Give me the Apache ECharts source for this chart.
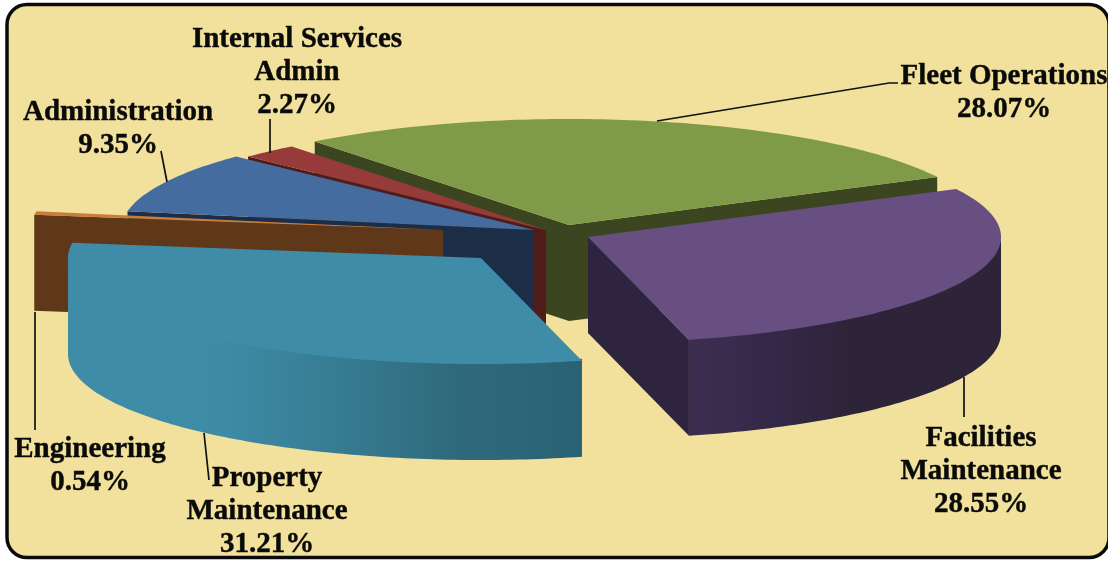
<!DOCTYPE html>
<html lang="en">
<head>
    <meta charset="UTF-8">
    <title>Budget share by division</title>
    <script src="https://cdn.jsdelivr.net/npm/echarts@6/dist/echarts.min.js"></script>
    <style>
        html, body, #chart {
            width: 100%;
            height: 100%;
            padding: 0;
            margin: 0;
            background: #fff;
        }
    </style>
</head>
<body>
<div id="chart"></div>
<script>
    // chart data, clockwise from the first slice
    var sliceNames = ["Fleet Operations", "Facilities\nMaintenance", "Property\nMaintenance", "Engineering", "Administration", "Internal Services\nAdmin"];
    var sliceValues = [28.07, 28.55, 31.21, 0.54, 9.35, 2.27];

    // look of the fake 3D pie
    var startAngle = -38;
    var radiusX = 413;
    var radiusY = 106;
    var depth = 96;
    var sliceApex = [[569, 225], [588, 237], [481, 258], [443, 230], [534, 230], [546, 230]];
    var sliceOrder = [0, 4, 5, 3, 2, 1]; // paint order per slice, back to front
    var topColors = ["#7f9a48", "#674f82", "#3f8ca8", "#c97c3c", "#456c9f", "#963b3a"];
    var cutColors = ["#3b4621", "#2e2440", "#2f6f82", "#5f3719", "#1b2d47", "#4f1c1b"];
    var wallStops = [
        null,
        [[0, "#3d2e50"], [0.25, "#35294a"], [0.5, "#2e2439"], [1, "#2e2439"]],
        [[0, "#3e8ca8"], [0.3, "#3d8ba6"], [0.55, "#367a90"], [0.75, "#2f6a7c"], [1, "#2a6274"]],
        null, null, null
    ];
    var labelPos = [[1004, 76], [981, 438], [267, 478], [90, 449], [118, 112], [297, 39]];
    var leaders = [
        [[657, 121], [889, 83], [898, 83]],
        [[964, 377], [964, 417]],
        [[204, 433], [209, 480]],
        [[35, 312], [35, 430]],
        [[161, 151], [167, 182]],
        [[270, 119], [270, 153]]
    ];

    var total = sliceValues.reduce(function (a, b) { return a + b; }, 0);

    function rimPoint(apex, deg, drop) {
        var rad = deg * Math.PI / 180;
        return [apex[0] + radiusX * Math.sin(rad), apex[1] - radiusY * Math.cos(rad) + (drop || 0)];
    }

    function arcPoints(apex, from, to, drop) {
        var pts = [];
        var steps = Math.max(2, Math.ceil(Math.abs(to - from)));
        for (var i = 0; i <= steps; i++) {
            pts.push(rimPoint(apex, from + (to - from) * i / steps, drop));
        }
        return pts;
    }

    function cutFace(apex, deg, fill, z2) {
        var rim = rimPoint(apex, deg);
        return {
            type: "polygon",
            z2: z2,
            shape: {points: [apex, rim, [rim[0], rim[1] + depth], [apex[0], apex[1] + depth]]},
            style: {fill: fill}
        };
    }

    function renderSlice(params, api) {
        var idx = params.dataIndex;
        var before = 0;
        for (var i = 0; i < idx; i++) before += sliceValues[i];
        var from = startAngle + before / total * 360;
        var to = from + api.value(0) / total * 360;
        var apex = sliceApex[idx];
        var z = sliceOrder[idx] * 10 + 1;
        var children = [];

        // only the cut face turned to the viewer shows
        if (Math.sin(from * Math.PI / 180) < 0) children.push(cutFace(apex, from, cutColors[idx], z));
        if (Math.sin(to * Math.PI / 180) > 0) children.push(cutFace(apex, to, cutColors[idx], z));

        // outer wall on the front half of the rim, tucked under the top to hide the seam
        var wallFrom = Math.max(from, 90);
        var wallTo = Math.min(to, 270);
        if (wallTo > wallFrom && wallStops[idx]) {
            var wall = arcPoints(apex, wallFrom, wallTo, -2).concat(arcPoints(apex, wallTo, wallFrom, depth));
            children.push({
                type: "polygon",
                z2: z + 1,
                shape: {points: wall},
                style: {
                    fill: {
                        type: "linear", x: 0, y: 0, x2: 1, y2: 0,
                        colorStops: wallStops[idx].map(function (s) {
                            return {offset: s[0], color: s[1]};
                        })
                    }
                }
            });
        }

        children.push({
            type: "polygon",
            z2: z + 2,
            shape: {points: [apex].concat(arcPoints(apex, from, to, 0))},
            style: {fill: topColors[idx]}
        });

        children.push({
            type: "polyline",
            z2: 100,
            shape: {points: leaders[idx]},
            style: {stroke: "#111", lineWidth: 1.7, fill: null}
        });
        children.push({
            type: "text",
            z2: 101,
            style: {
                text: sliceNames[idx] + "\n" + api.value(0).toFixed(2) + "%",
                x: labelPos[idx][0],
                y: labelPos[idx][1] - 16,
                align: "center",
                verticalAlign: "top",
                font: "bold 29px 'Liberation Serif'",
                lineHeight: 33,
                fill: "#0a0a0a",
                stroke: "#0a0a0a",
                lineWidth: 0.4
            }
        });
        return {type: "group", children: children};
    }

    var myChart = echarts.init(document.getElementById("chart"));
    myChart.setOption({
        animation: false,
        backgroundColor: "#fff",
        graphic: [{
            type: "rect",
            z: 0,
            silent: true,
            shape: {x: 7, y: 4.5, width: 1102, height: 553, r: 20},
            style: {fill: "#f1e19c", stroke: "#0a0a0a", lineWidth: 3.5}
        }],
        series: [{
            type: "custom",
            coordinateSystem: "none",
            z: 2,
            silent: true,
            data: sliceValues.map(function (v) { return [v]; }),
            renderItem: renderSlice
        }]
    });
</script>
</body>
</html>
